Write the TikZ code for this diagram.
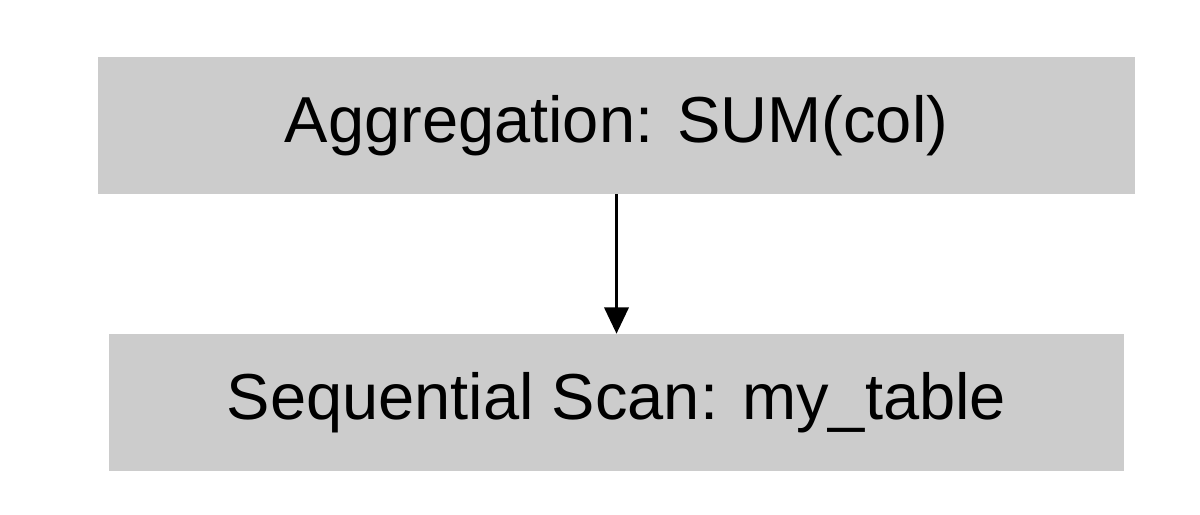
\documentclass[tikz,border=0pt]{standalone}
\usepackage{fontspec}
\setmainfont{Liberation Sans}
\usetikzlibrary{arrows.meta}
\begin{document}
\begin{tikzpicture}[x=0.02cm,y=-0.02cm,
  box/.style={fill=black!20,draw=none,inner sep=0pt,font=\fontsize{37}{44}\selectfont},
  conn/.style={line width=1.2pt,-{Triangle[length=15pt,width=14pt]}}]
\useasboundingbox (0,0) rectangle (1200,514);
\fill[white] (0,0) rectangle (1200,514);
\node[box,minimum width=1037*0.02cm,minimum height=137*0.02cm] (agg) at (616.5,125.5) {Aggregation: SUM(col)};
\node[box,minimum width=1015*0.02cm,minimum height=137*0.02cm] (scan) at (616.5,402.5) {Sequential Scan: my\_table};
\draw[conn] (agg.south) -- (scan.north);
\end{tikzpicture}
\end{document}
